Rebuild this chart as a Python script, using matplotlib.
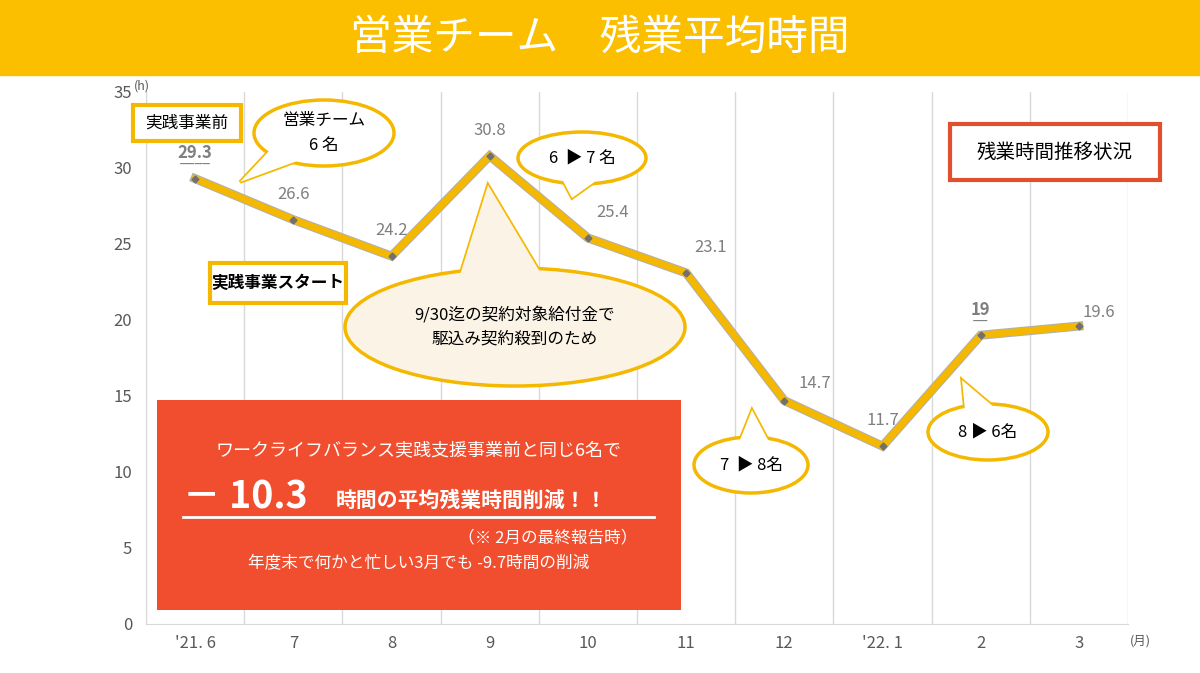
import matplotlib.pyplot as plt
from matplotlib.patches import Rectangle, Ellipse, Polygon
import matplotlib.patheffects as pe

plt.rcParams['font.family'] = 'Noto Sans CJK JP'

months = ["'21. 6", "7", "8", "9", "10", "11", "12", "'22. 1", "2", "3"]
hours = [29.3, 26.6, 24.2, 30.8, 25.4, 23.1, 14.7, 11.7, 19, 19.6]
labels = ["29.3", "26.6", "24.2", "30.8", "25.4", "23.1", "14.7", "11.7", "19", "19.6"]
label_off = [(0, 12), (0, 12), (0, 12), (0, 12), (18, 12), (18, 12), (22, 6), (0, 12), (0, 12), (14, 4)]

W, H = 1200, 673
fig = plt.figure(figsize=(12, 6.73), dpi=100)

def fx(x):
    return x / W

def fy(y):
    return 1 - y / H

# title bar
fig.patches.append(Rectangle((0, fy(75)), 1, 75 / H, transform=fig.transFigure,
                             color='#FBBF00', zorder=0))
fig.text(0.5, fy(38), '営業チーム　残業平均時間', color='white', fontsize=30,
         ha='center', va='center')

ax = fig.add_axes([fx(146), fy(624), fx(1128 - 146), (624 - 92) / H])
x = list(range(len(months)))
ax.plot(x, hours, color='#F5B800', lw=5, solid_joinstyle='miter', zorder=3,
        path_effects=[pe.Stroke(linewidth=6.5, foreground='#B0B0B0'), pe.Normal()])
ax.plot(x, hours, 'D', color='#707070', ms=3.5, zorder=4)
for i, (v, t) in enumerate(zip(hours, labels)):
    u = i in (0, 8)
    txt = ax.annotate(t, (i, v), xytext=label_off[i], textcoords='offset points',
                      ha='center', va='bottom', fontsize=12, color='#7F7F7F',
                      fontweight='bold' if u else 'normal')
    if u:
        ax.annotate('_' * len(t), (i, v), xytext=(label_off[i][0], label_off[i][1] - 3),
                    textcoords='offset points', ha='center', va='bottom', fontsize=10,
                    color='#7F7F7F')
ax.set_xlim(-0.5, 9.5)
ax.set_ylim(0, 35)
ax.set_yticks(range(0, 36, 5))
ax.set_xticks(x)
ax.set_xticklabels(months)
ax.set_xticks([i + 0.5 for i in range(-1, 10)], minor=True)
ax.grid(axis='x', which='minor', color='#D9D9D9', lw=1)
ax.tick_params(which='both', length=0, labelsize=12, labelcolor='#595959', pad=10)
ax.tick_params(axis='x', pad=8)
for s in ax.spines.values():
    s.set_visible(False)
ax.spines['left'].set_visible(True)
ax.spines['bottom'].set_visible(True)
ax.spines['left'].set_color('#D9D9D9')
ax.spines['bottom'].set_color('#D9D9D9')
fig.text(fx(134), fy(90), '(h)', fontsize=9, color='#595959')
fig.text(fx(1130), fy(645), '(月)', fontsize=9, color='#595959')

def box(x0, y0, w, h, text, ec, fs=12, bold=False):
    fig.patches.append(Rectangle((fx(x0), fy(y0 + h)), w / W, h / H, transform=fig.transFigure,
                                 fc='white', ec=ec, lw=3, zorder=5))
    fig.text(fx(x0 + w / 2), fy(y0 + h / 2), text, fontsize=fs, ha='center', va='center',
             fontweight='bold' if bold else 'normal', zorder=6)

def bubble(cx, cy, w, h, tail, text, fs=12, fc='white'):
    fig.patches.append(Polygon([(fx(px), fy(py)) for px, py in tail], closed=True,
                               transform=fig.transFigure, fc=fc, ec='#F5B800', lw=2.5, zorder=5))
    fig.patches.append(Ellipse((fx(cx), fy(cy)), w / W, h / H, transform=fig.transFigure,
                               fc=fc, ec='#F5B800', lw=2.5, zorder=5))
    fig.patches.append(Polygon([(fx(px), fy(py)) for px, py in tail], closed=True,
                               transform=fig.transFigure, fc=fc, ec='none', zorder=6))
    fig.text(fx(cx), fy(cy), text, fontsize=fs, ha='center', va='center', zorder=7,
             linespacing=1.6)

box(133, 105, 108, 36, '実践事業前', '#F5B800')
box(210, 263, 136, 40, '実践事業スタート', '#F5B800', bold=True)
box(950, 124, 210, 56, '残業時間推移状況', '#E0502F', fs=14)

bubble(324, 133, 140, 66, [(270, 150), (240, 182), (300, 160)], '営業チーム\n6 名')
bubble(582, 158, 128, 52, [(560, 175), (572, 198), (600, 178)], '6  ▶ 7 名')
bubble(515, 327, 340, 118, [(460, 275), (488, 185), (540, 272)],
       '9/30迄の契約対象給付金で\n駆込み契約殺到のため', fc='#FBF4E6')
bubble(751, 465, 114, 56, [(740, 440), (752, 410), (768, 440)], '7  ▶ 8名')
bubble(988, 432, 120, 56, [(965, 410), (962, 380), (995, 408)], '8 ▶ 6名')

fig.patches.append(Rectangle((fx(157), fy(610)), (681 - 157) / W, (610 - 400) / H,
                             transform=fig.transFigure, fc='#F04E2E', ec='none', zorder=5))
fig.text(fx(419), fy(450), 'ワークライフバランス実践支援事業前と同じ6名で', color='white',
         fontsize=13, ha='center', va='center', zorder=6)
fig.text(fx(183), fy(497), '－ 10.3', color='white', fontsize=27, fontweight='bold',
         ha='left', va='center', zorder=6)
fig.text(fx(336), fy(500), '時間の平均残業時間削減！！', color='white', fontsize=15,
         fontweight='bold', ha='left', va='center', zorder=6)
fig.lines.append(plt.Line2D([fx(183), fx(654)], [fy(517), fy(517)], color='white', lw=2,
                            transform=fig.transFigure, zorder=6))
fig.text(fx(548), fy(538), '（※ 2月の最終報告時）', color='white', fontsize=12,
         ha='center', va='center', zorder=6)
fig.text(fx(419), fy(563), '年度末で何かと忙しい3月でも -9.7時間の削減', color='white',
         fontsize=12, ha='center', va='center', zorder=6)

fig.savefig('out.png', dpi=100)
